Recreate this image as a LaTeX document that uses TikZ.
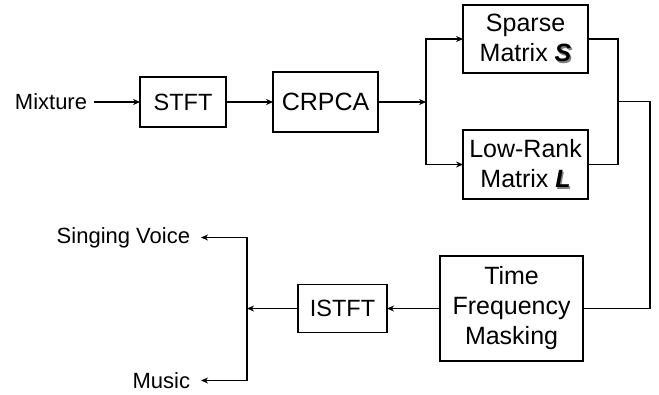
\documentclass[tikz,border=0pt]{standalone}
\usepackage{fontspec}
\setmainfont{Liberation Sans}
\usetikzlibrary{positioning,arrows.meta,calc}

\newcommand{\boldvar}[1]{\makebox[0pt][l]{\hspace{1.3pt}\raisebox{-1.3pt}{\textcolor{gray}{\textbf{\textit{#1}}}}}\textbf{\textit{#1}}}

\begin{document}
\begin{tikzpicture}[x=1pt,y=-1pt,>={Stealth[length=7pt,width=6pt]},line width=1.4pt,
    main node/.style={draw,line width=1.8pt,align=center,inner sep=0pt,outer sep=0pt,font=\fontsize{25}{30}\selectfont},
    small node/.style={main node,font=\fontsize{23.5}{28}\selectfont},
    label node/.style={inner sep=2pt,outer sep=0pt,font=\fontsize{22}{26}\selectfont}]

            \useasboundingbox (0,0) rectangle (659,394);

            \node[label node] (1) at (51,102) {Mixture};
            \node[small node,minimum width=86pt,minimum height=50pt] (2) [right=51pt of 1] {STFT};
            \node[main node,minimum width=105pt,minimum height=60pt] (3) [right=47pt of 2] {CRPCA};
            \coordinate[right=48pt of 3] (b1);
            \node[main node,minimum width=125pt,minimum height=68pt] (4) [right=37pt of b1, yshift=63pt] {Sparse\\Matrix \boldvar{S}};
            \node[main node,minimum width=125pt,minimum height=69pt] (5) [below=57pt of 4] {Low-Rank\\Matrix \boldvar{L}};
            \coordinate (m) at ($(4.east)!.5!(5.east)+(30,0)$);
            \coordinate[right=32pt of m] (r);
            \node[main node,minimum width=143pt,minimum height=105pt] (6) [below=57pt of 5, xshift=-14pt] {Time\\Frequency\\Masking};
            \node[small node,minimum width=89pt,minimum height=48pt] (7) [left=53pt of 6] {ISTFT};
            \coordinate[left=51pt of 7] (sp);
            \node[label node] (8) [left=55pt of sp, yshift=71pt] {Singing Voice};
            \node[label node] (9) [left=55pt of sp, yshift=-72pt] {Music};

            \draw[->,shorten <=5pt] (1) -- (2);
            \draw[->] (2) -- (3);
            \draw[->] (3) -- (b1);
            \draw[->] (b1) |- (4);
            \draw[->] (b1) |- (5);
            \draw (4) -| (m) |- (5);
            \draw (m) -- (r) |- (6);
            \draw[->] (6) -- (7);
            \draw[->] (7) -- (sp);
            \draw[->,shorten >=9pt] (sp) |- (8);
            \draw[->,shorten >=9pt] (sp) |- (9);
        \end{tikzpicture}
\end{document}
